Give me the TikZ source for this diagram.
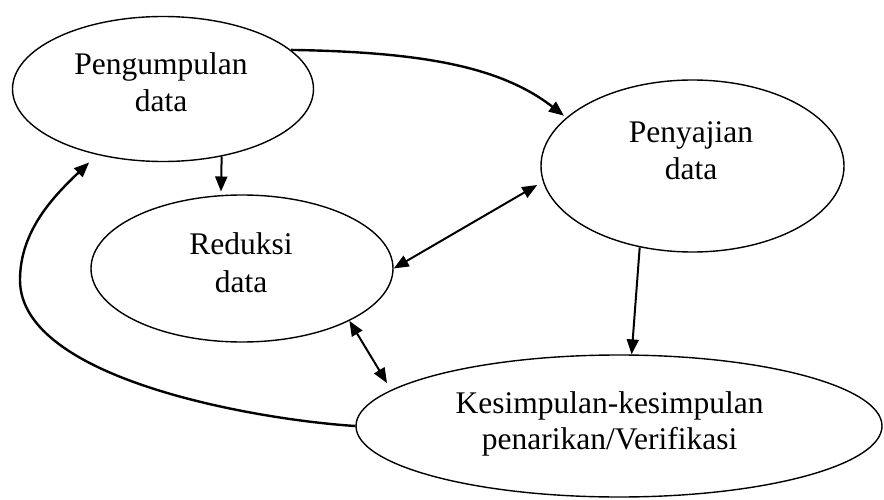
\documentclass[tikz,border=0pt]{standalone}
\usepackage{fontspec}
\setmainfont{Liberation Serif}
\usetikzlibrary{arrows.meta,shapes.geometric}
\begin{document}
\begin{tikzpicture}[x=1pt,y=1pt,
  bub/.style={draw, ellipse, line width=1.4pt, fill=white, inner sep=0pt},
  lbl/.style={anchor=base, font=\fontsize{31.5}{37}\selectfont, inner sep=0pt},
  arr/.style={line width=2pt, -{Triangle[length=15pt,width=12pt]}},
  darr/.style={line width=2pt, {Triangle[length=15pt,width=12pt]}-{Triangle[length=15pt,width=12pt]}},
]
\useasboundingbox (0,0) rectangle (884,499);
% ellipses
\node[bub, minimum width=301pt, minimum height=145pt] (e1) at (163,410) {};
\node[bub, minimum width=302pt, minimum height=147pt] (e2) at (242,230.5) {};
\node[bub, minimum width=303pt, minimum height=172pt] (e3) at (692.5,333) {};
\node[bub, minimum width=526pt, minimum height=142pt] (e4) at (619,73) {};
% texts
\node[lbl] (t1a) at (161,424) {Pengumpulan};
\node[lbl] (t1b) at (161,387) {data};
\node[lbl] (t2a) at (241,245) {Reduksi};
\node[lbl] (t2b) at (241,207) {data};
\node[lbl] (t3a) at (691,356) {Penyajian};
\node[lbl] (t3b) at (691,319) {data};
\node[lbl] (t4a) at (609.5,86) {Kesimpulan-kesimpulan};
\node[lbl] (t4b) at (609.5,50) {penarikan/Verifikasi};
% connectors
\draw[arr, line width=2.4pt, shorten >=3pt] (e1.17) .. controls (420,447) and (500,433) .. (e3.159);
\draw[arr, shorten >=3.5pt] (e1.-49) -- (e2.106);
\draw[darr, shorten >=6.5pt] (e2.0) -- (e3.186);
\draw[arr] (e3.237) -- (e4.80);
\draw[darr, shorten >=8pt] (e2.-26) -- (e4.171);
\draw[arr, line width=2.4pt, shorten >=11pt] (e4.west) .. controls (260,79) and (20,119) .. (20,219)
  .. controls (20,269) and (55,304) .. (e1.225);
\end{tikzpicture}
\end{document}
